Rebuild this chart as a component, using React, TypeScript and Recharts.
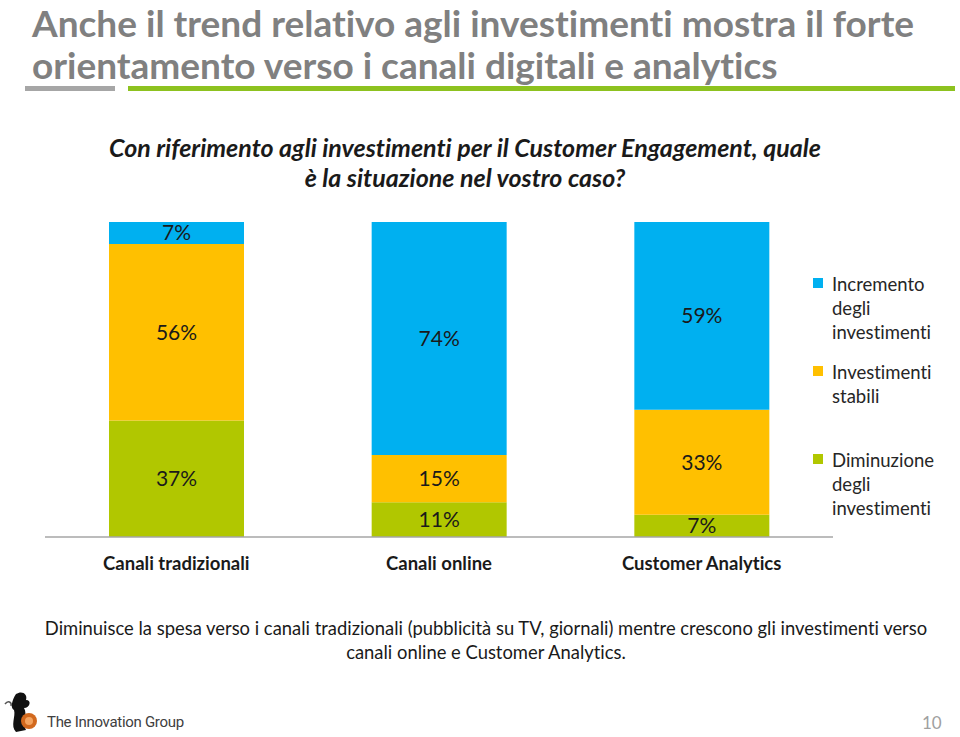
import { BarChart, Bar, XAxis, YAxis, Legend, LabelList } from 'recharts'

const categories = ['Canali tradizionali', 'Canali online', 'Customer Analytics']
const diminuzione = [37, 11, 7]
const stabili = [56, 15, 33]
const incremento = [7, 74, 59]

const seriesNames = {
  diminuzione: 'Diminuzione degli investimenti',
  stabili: 'Investimenti stabili',
  incremento: 'Incremento degli investimenti',
}

const colors = {
  diminuzione: '#b1c700',
  stabili: '#ffc000',
  incremento: '#00b0f0',
}

const data = categories.map((name, i) => ({
  name,
  diminuzione: diminuzione[i],
  stabili: stabili[i],
  incremento: incremento[i],
}))

const font = 'Lato, "Open Sans", sans-serif'

const legendItems = [
  { key: 'incremento', lines: ['Incremento', 'degli', 'investimenti'], top: 0 },
  { key: 'stabili', lines: ['Investimenti', 'stabili'], top: 88 },
  { key: 'diminuzione', lines: ['Diminuzione', 'degli', 'investimenti'], top: 176 },
] as const

const renderLegend = () => (
  <div style={{ position: 'relative', width: 140, height: 250, fontFamily: font }}>
    {legendItems.map((item) => (
      <div key={item.key} style={{ position: 'absolute', top: item.top, left: 0, textAlign: 'left' }}>
        <div
          style={{
            position: 'absolute',
            left: 0,
            top: 6,
            width: 10,
            height: 10,
            background: colors[item.key],
          }}
        />
        <div style={{ marginLeft: 19, fontSize: 18.5, lineHeight: '24px', color: '#262626', whiteSpace: 'nowrap' }}>
          {item.lines.map((l) => (
            <div key={l}>{l}</div>
          ))}
        </div>
      </div>
    ))}
  </div>
)

const pct = (v: any) => `${v}%`

const titleStyle = {
  position: 'absolute' as const,
  left: 32,
  fontSize: 37,
  lineHeight: '36px',
  fontWeight: 700,
  color: '#808080',
  whiteSpace: 'nowrap' as const,
}

export default function App() {
  return (
    <div
      style={{
        position: 'absolute',
        top: 0,
        left: 0,
        width: 960,
        height: 737,
        background: '#fff',
        fontFamily: font,
        fontVariantLigatures: 'none',
        overflow: 'hidden',
      }}
    >
      <div style={{ ...titleStyle, top: 5 }}>Anche il trend relativo agli investimenti mostra il forte</div>
      <div style={{ ...titleStyle, top: 47 }}>orientamento verso i canali digitali e analytics</div>
      <div style={{ position: 'absolute', left: 25, top: 86, width: 90, height: 5, background: '#a6a6a6' }} />
      <div style={{ position: 'absolute', left: 128, top: 86, width: 827, height: 5, background: '#8dc21f' }} />

      <div
        style={{
          position: 'absolute',
          left: 0,
          width: 930,
          top: 132,
          textAlign: 'center',
          fontSize: 25,
          lineHeight: '30px',
          fontWeight: 700,
          fontStyle: 'italic',
          color: '#1a1a1a',
          whiteSpace: 'nowrap',
        }}
      >
        <div>Con riferimento agli investimenti per il Customer Engagement, quale</div>
        <div>è la situazione nel vostro caso?</div>
      </div>

      <div style={{ position: 'absolute', top: 0, left: 0 }}>
        <BarChart
          width={960}
          height={600}
          data={data}
          stackOffset="expand"
          barSize={135}
          margin={{ top: 222, right: 127, bottom: 23, left: 45 }}
        >
          <XAxis
            dataKey="name"
            height={40}
            axisLine={{ stroke: '#a6a6a6', strokeWidth: 1.5 }}
            tickLine={false}
            tickMargin={14}
            tick={{ fill: '#1a1a1a', fontSize: 18.5, fontWeight: 700, fontFamily: font }}
          />
          <YAxis hide domain={[0, 1]} />
          <Legend
            layout="vertical"
            align="center"
            verticalAlign="middle"
            content={renderLegend}
            wrapperStyle={{ position: 'absolute', top: 272, left: 813, width: 140 }}
          />
          {(['diminuzione', 'stabili', 'incremento'] as const).map((k) => (
            <Bar
              key={k}
              dataKey={k}
              name={seriesNames[k]}
              stackId="a"
              fill={colors[k]}
              isAnimationActive={false}
            >
              <LabelList
                dataKey={k}
                position="center"
                formatter={pct}
                fill="#1a1a1a"
                fontSize={21}
                fontFamily={font}
              />
            </Bar>
          ))}
        </BarChart>
      </div>

      <div
        style={{
          position: 'absolute',
          left: 0,
          width: 972,
          top: 616,
          textAlign: 'center',
          fontSize: 18.4,
          lineHeight: '24px',
          color: '#1a1a1a',
          whiteSpace: 'nowrap',
        }}
      >
        <div>Diminuisce la spesa verso i canali tradizionali (pubblicità su TV, giornali) mentre crescono gli investimenti verso</div>
        <div>canali online e Customer Analytics.</div>
      </div>

      <svg style={{ position: 'absolute', left: 2, top: 690 }} width={42} height={44}>
        <path d="M14 4 C20 0 26 4 24 10 C30 10 28 18 22 18 C26 24 20 34 24 40 L14 42 C8 36 14 26 12 20 C8 18 10 10 14 4 Z" fill="#111" />
        <circle cx={27} cy={31} r={8} fill="#d2691e" />
        <circle cx={27} cy={31} r={4} fill="#f4a460" />
        <path d="M3 14 C6 10 10 12 9 16" stroke="#555" strokeWidth={1.5} fill="none" />
      </svg>
      <div
        style={{
          position: 'absolute',
          left: 47,
          top: 713,
          fontSize: 15,
          color: '#404040',
          fontFamily: '"Liberation Sans Narrow", "Roboto", sans-serif',
          letterSpacing: -0.3,
        }}
      >
        The Innovation Group
      </div>
      <div style={{ position: 'absolute', left: 922, top: 712, fontSize: 17, color: '#a0a0a0' }}>10</div>
    </div>
  )
}
